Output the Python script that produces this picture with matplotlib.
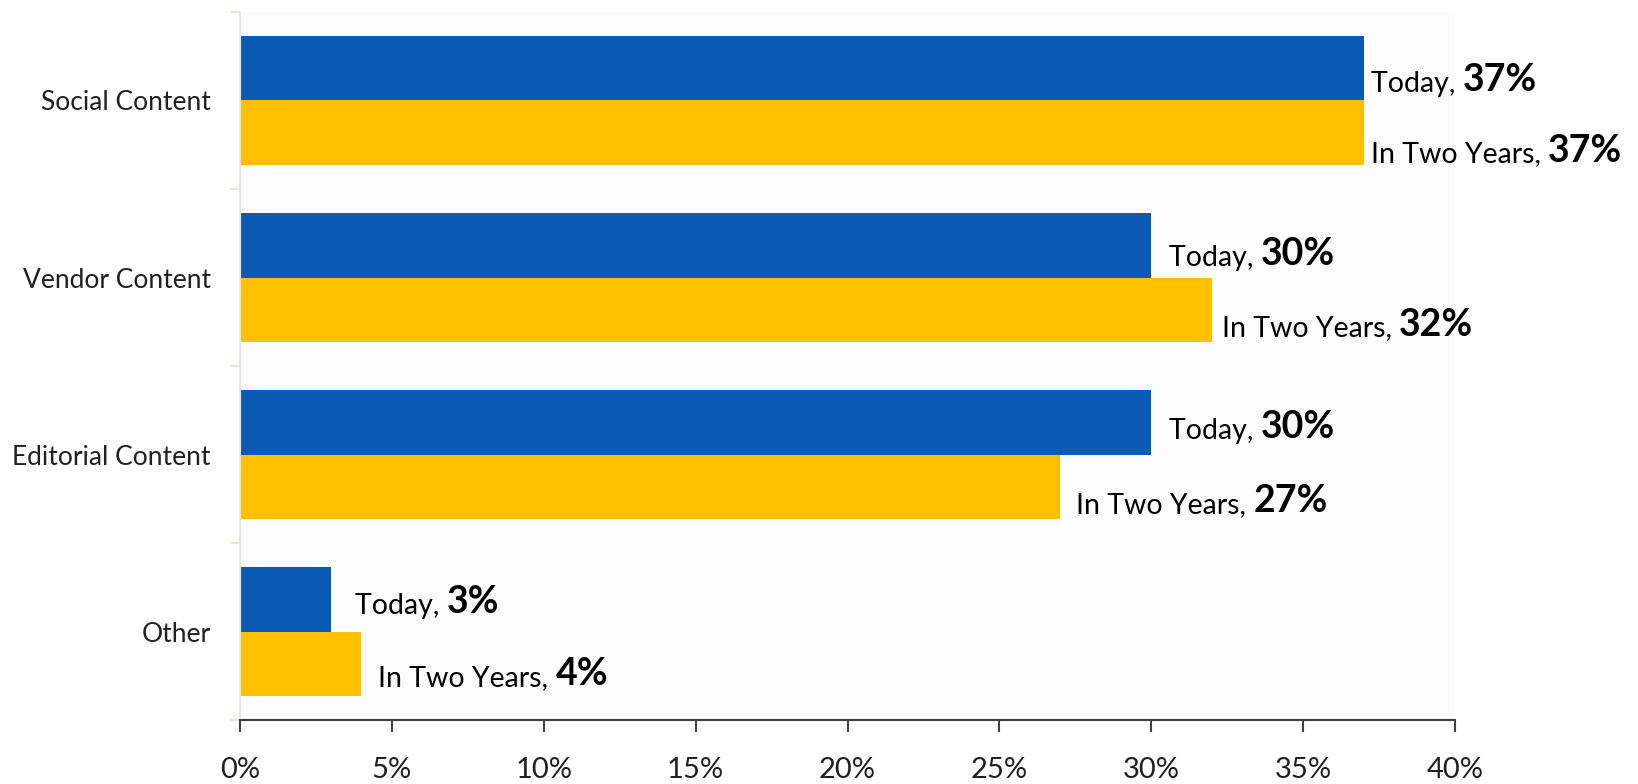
import matplotlib.pyplot as plt
import numpy as np

# content share today vs. in two years
categories = ['Social Content', 'Vendor Content', 'Editorial Content', 'Other']
today = [37, 30, 30, 3]
two_years = [37, 32, 27, 4]
xticks = [0, 5, 10, 15, 20, 25, 30, 35, 40]

# label offsets in pixels (dx, dy) - excel put them a bit unevenly
today_off = [(7, 16), (18, 13), (18, 9), (24, 7)]
two_off = [(7, 22), (10, 19), (16, 18), (17, 14)]

plt.rcParams['font.family'] = ['Lato', 'DejaVu Sans']

fig = plt.figure(figsize=(16.38, 7.84), dpi=100)
ax = fig.add_axes([0.1465, 0.0816, 0.7418, 0.9031])
ax.set_facecolor('#fcfcfc')

y = np.arange(len(categories))
h = 0.362
ax.barh(y - h / 2, today, height=h, color='#0b5bb4')
ax.barh(y + h / 2, two_years, height=h, color='#ffc000')

ax.set_xlim(0, 40)
ax.set_ylim(len(categories) - 0.5, -0.5)

for i in range(len(categories)):
    t1 = ax.annotate('Today, ', xy=(today[i], y[i] - h / 2), xytext=(today_off[i][0], -today_off[i][1]),
                     textcoords='offset pixels', va='center', ha='left', fontsize=20.5, color='black')
    ax.annotate('%d%%' % today[i], xy=(1, 0), xycoords=t1, va='bottom', ha='left',
                fontsize=27, fontweight='bold', color='black')
    t2 = ax.annotate('In Two Years, ', xy=(two_years[i], y[i] + h / 2), xytext=(two_off[i][0], -two_off[i][1]),
                     textcoords='offset pixels', va='center', ha='left', fontsize=20.5, color='black')
    ax.annotate('%d%%' % two_years[i], xy=(1, 0), xycoords=t2, va='bottom', ha='left',
                fontsize=27, fontweight='bold', color='black')

ax.set_xticks(xticks)
ax.set_xticklabels(['%d%%' % v for v in xticks])
ax.set_yticks(y)
ax.set_yticklabels(categories)
ax.set_yticks(np.arange(len(categories) + 1) - 0.5, minor=True)

for s in ['top', 'right']:
    ax.spines[s].set_visible(False)
ax.spines['bottom'].set_color('#404040')
ax.spines['bottom'].set_linewidth(1.5)
ax.spines['left'].set_color('#ece6da')
ax.spines['left'].set_linewidth(1.5)

ax.tick_params(axis='x', direction='out', length=8.6, width=1.5, color='#404040',
               labelsize=21, labelcolor='#202020', pad=18)
ax.tick_params(axis='y', which='major', length=0, labelsize=19, labelcolor='#202020', pad=21)
ax.tick_params(axis='y', which='minor', length=7, width=1.5, color='#ece6da')

plt.savefig('out.png', dpi=100)
